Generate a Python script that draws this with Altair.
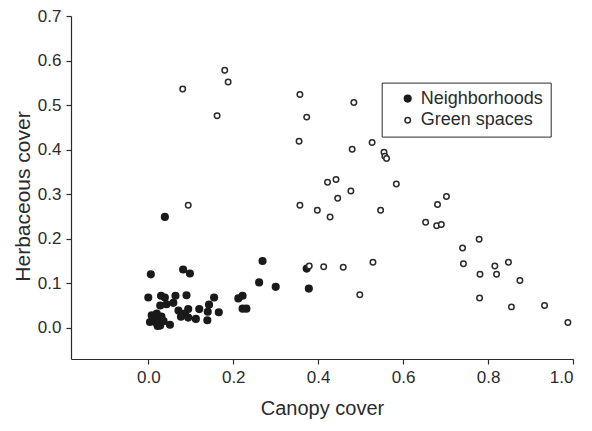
import altair as alt
import pandas as pd

# Neighborhoods (filled)
nb_x = [0.039, 0.006, 0.082, 0.098, 0.269, 0.261, 0.300, 0.378, 0.373,
        0.000, 0.030, 0.039, 0.064, 0.090, 0.155,
        0.028, 0.043, 0.059, 0.071, 0.086, 0.094, 0.120, 0.143, 0.140, 0.166,
        0.112, 0.139, 0.077, 0.094, 0.051, 0.028,
        0.004, 0.008, 0.020, 0.031, 0.012, 0.018, 0.025, 0.036, 0.022,
        0.212, 0.222, 0.222, 0.231]
nb_y = [0.249, 0.120, 0.131, 0.122, 0.150, 0.102, 0.092, 0.088, 0.133,
        0.068, 0.072, 0.068, 0.072, 0.073, 0.068,
        0.050, 0.053, 0.056, 0.039, 0.032, 0.042, 0.042, 0.052, 0.036, 0.035,
        0.020, 0.017, 0.025, 0.023, 0.007, 0.005,
        0.013, 0.028, 0.032, 0.025, 0.020, 0.012, 0.018, 0.015, 0.004,
        0.066, 0.072, 0.043, 0.043]

# Green spaces (open)
gs_x = [0.180, 0.188, 0.081, 0.162, 0.094, 0.357, 0.484, 0.373, 0.355, 0.527,
        0.480, 0.555, 0.557, 0.561, 0.422, 0.442, 0.584, 0.477, 0.446, 0.357,
        0.398, 0.428, 0.547, 0.702, 0.681, 0.653, 0.679, 0.690, 0.379, 0.413,
        0.459, 0.529, 0.498, 0.779, 0.740, 0.742, 0.816, 0.848, 0.781, 0.820,
        0.875, 0.780, 0.855, 0.933, 0.988]
gs_y = [0.578, 0.552, 0.536, 0.476, 0.275, 0.524, 0.506, 0.473, 0.419, 0.416,
        0.401, 0.394, 0.385, 0.380, 0.327, 0.333, 0.323, 0.307, 0.291, 0.275,
        0.264, 0.249, 0.264, 0.295, 0.277, 0.237, 0.229, 0.232, 0.139, 0.137,
        0.136, 0.147, 0.074, 0.199, 0.179, 0.144, 0.139, 0.147, 0.120, 0.120,
        0.106, 0.067, 0.047, 0.050, 0.012]

groups = ["Neighborhoods", "Green spaces"]
x_ticks = [0.0, 0.2, 0.4, 0.6, 0.8, 1.0]
y_ticks = [0.0, 0.1, 0.2, 0.3, 0.4, 0.5, 0.6, 0.7]

df = pd.concat([
    pd.DataFrame({"x": nb_x, "y": nb_y, "g": groups[0]}),
    pd.DataFrame({"x": gs_x, "y": gs_y, "g": groups[1]}),
], ignore_index=True)

FONT = "Liberation Sans"
INK = "#2b2b2b"

chart = alt.Chart(df).mark_point(shape="circle", strokeWidth=1.5, opacity=1).encode(
    x=alt.X("x:Q", title="Canopy cover",
            scale=alt.Scale(domain=[-0.182, 1.0], nice=False, zero=False),
            axis=alt.Axis(values=x_ticks, format=".1f", titlePadding=13)),
    y=alt.Y("y:Q", title="Herbaceous cover",
            scale=alt.Scale(domain=[-0.07, 0.7], nice=False, zero=False),
            axis=alt.Axis(values=y_ticks, format=".1f", titlePadding=4,
                          titleFontSize=21, titleY=180)),
    fill=alt.Fill("g:N", scale=alt.Scale(domain=groups, range=["#1a1a1a", "#ffffff"]),
                  legend=alt.Legend(title=None)),
    stroke=alt.Stroke("g:N", scale=alt.Scale(domain=groups, range=["#1a1a1a", INK]),
                      legend=alt.Legend(title=None)),
    size=alt.Size("g:N", scale=alt.Scale(domain=groups, range=[44, 30]),
                  legend=alt.Legend(title=None)),
).properties(
    width=502, height=343,
    autosize=alt.AutoSizeParams(type="none"),
    padding={"left": 63, "top": 8, "right": 11, "bottom": 62},
).configure_view(stroke=None).configure_axis(
    grid=False, domainColor=INK, tickColor=INK, labelColor=INK, titleColor=INK,
    labelFont=FONT, titleFont=FONT, labelFontSize=17, titleFontSize=20,
    titleFontWeight="normal", tickSize=5, labelPadding=5, domainWidth=1.2, tickWidth=1.2,
).configure_legend(
    orient="none", legendX=310.7, legendY=66.6, strokeColor=INK, padding=7,
    symbolOffset=10, labelFont=FONT, labelFontSize=18, labelColor=INK,
    labelOffset=4, rowPadding=3.7, symbolStrokeWidth=1.5,
)

chart.save("out.html", embed_options={"renderer": "svg", "actions": False})
